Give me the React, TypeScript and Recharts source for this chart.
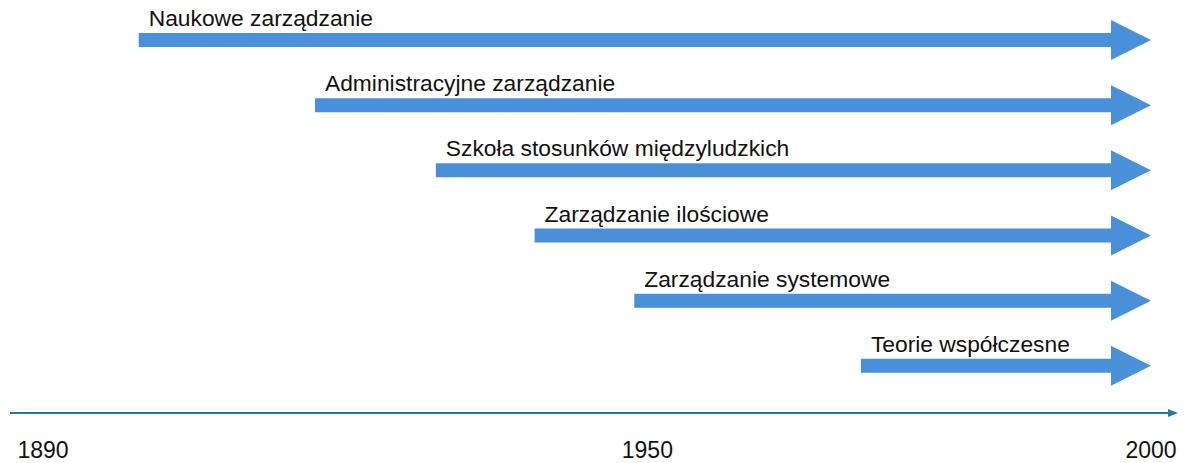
import { BarChart, Bar, XAxis, YAxis } from 'recharts';

// schools of management thought, start year -> still in use by 2000
const SCHOOLS = [
  'Naukowe zarządzanie',
  'Administracyjne zarządzanie',
  'Szkoła stosunków międzyludzkich',
  'Zarządzanie ilościowe',
  'Zarządzanie systemowe',
  'Teorie współczesne',
];
const START_YEARS = [1899.5, 1917, 1929, 1938.8, 1948.7, 1971.2];
const END_YEAR = 2000;
const YEAR_TICKS = [1890, 1950, 2000];

const data = SCHOOLS.map((name, i) => ({ name, range: [START_YEARS[i], END_YEAR] }));

const ARROW = '#4A90D9';
const AXIS = '#2F74A0';
const FONT = '"Liberation Sans", Arial, sans-serif';

function ArrowShape(props: any) {
  const { x, y, width, height, payload } = props;
  const cy = y + height / 2;
  const tip = x + width;
  const base = tip - 40;
  const d = `M${x},${cy - 7} L${base},${cy - 7} L${base},${cy - 20} L${tip},${cy} L${base},${cy + 20} L${base},${cy + 7} L${x},${cy + 7} Z`;
  return (
    <g>
      <path d={d} fill={ARROW} />
      <text x={x + 10} y={cy - 14} fontSize={22.8} fontFamily={FONT} fill="#111">
        {payload?.name}
      </text>
    </g>
  );
}

function YearTick(props: any) {
  const { x, y, payload } = props;
  return (
    <text x={x} y={y + 45} textAnchor="middle" fontSize={23} fontFamily={FONT} fill="#111">
      {payload.value}
    </text>
  );
}

export default function App() {
  return (
    <div style={{ position: 'absolute', left: 0, top: 0, background: '#fff' }}>
      <BarChart
        width={1186}
        height={463}
        data={data}
        layout="vertical"
        margin={{ top: 7, right: 18, bottom: 0, left: 10 }}
      >
        <defs>
          <marker id="axisHead" markerUnits="userSpaceOnUse" markerWidth={10} markerHeight={8} refX={0} refY={4} orient="auto">
            <path d="M0,0 L10,4 L0,8 Z" fill={AXIS} />
          </marker>
        </defs>
        <XAxis
          type="number"
          domain={[1886.72, 2001.69]}
          ticks={YEAR_TICKS}
          height={50}
          tickLine={false}
          tickSize={0}
          tickMargin={0}
          axisLine={{ stroke: AXIS, strokeWidth: 2, markerEnd: 'url(#axisHead)' }}
          tick={<YearTick />}
          allowDataOverflow
        />
        <YAxis type="category" dataKey="name" hide padding={{ top: 0, bottom: 15 }} />
        <Bar dataKey="range" barSize={40} shape={<ArrowShape />} isAnimationActive={false} />
      </BarChart>
    </div>
  );
}
